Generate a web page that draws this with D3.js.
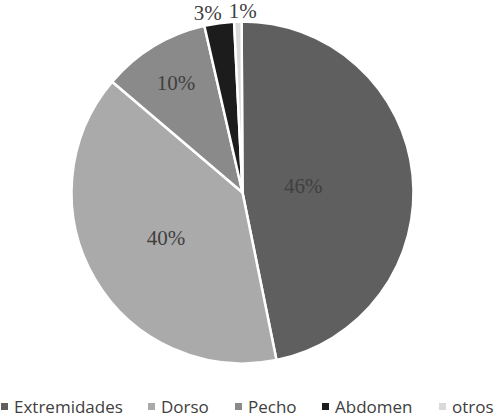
<!DOCTYPE html>
<html><head><meta charset="utf-8">
<script src="https://cdn.jsdelivr.net/npm/d3@7"></script>
<style>body{margin:0;background:#fff}</style>
</head><body>
<svg id="c" width="497" height="418"></svg>
<script>
const categories = ["Extremidades","Dorso","Pecho","Abdomen","otros"];
const values = [46.9,39.4,10.2,2.8,0.7];
const labels = ["46%","40%","10%","3%","1%"];
const colors = ["#5f5f5f","#aaaaaa","#8a8a8a","#1c1c1c","#d9d9d9"];
// label placement (styling)
const labelRadius = [0.357,0.52,0.75,1.02,1.02];
const labelAnchor = ["middle","middle","middle","end","middle"];
const labelBase = ["central","central","central","alphabetic","alphabetic"];
const labelDx = [0,0,0,3,5];

const svg = d3.select("#c");
const cx = 242.5, cy = 192.5, r = 171;
const g = svg.append("g").attr("transform",`translate(${cx},${cy})`);
const off = -0.3*Math.PI/180;
const pie = d3.pie().sort(null).value(d=>d).startAngle(off).endAngle(2*Math.PI+off)(values);
const arc = d3.arc().innerRadius(0).outerRadius(r);
g.selectAll("path").data(pie).join("path")
  .attr("d",arc).attr("fill",(d,i)=>colors[i])
  .attr("stroke","#fff").attr("stroke-width",2.5).attr("stroke-linejoin","round");
g.selectAll("text").data(pie).join("text")
  .attr("transform",(d,i)=>{
    const a=(d.startAngle+d.endAngle)/2, rr=r*labelRadius[i];
    return `translate(${Math.sin(a)*rr+labelDx[i]},${-Math.cos(a)*rr})`;})
  .attr("text-anchor",(d,i)=>labelAnchor[i])
  .attr("dominant-baseline",(d,i)=>labelBase[i])
  .attr("font-family","Liberation Serif, serif").attr("font-size",21)
  .attr("fill","#404040").text((d,i)=>labels[i]);

const lx = [1,148,235,322,439];
const leg = svg.append("g");
categories.forEach((c,i)=>{
  leg.append("rect").attr("x",lx[i]).attr("y",403).attr("width",7).attr("height",7).attr("fill",colors[i]);
  leg.append("text").attr("x",lx[i]+13).attr("y",413).attr("font-family","Open Sans, sans-serif")
    .attr("font-size",17).attr("fill","#404040").text(c);
});
</script>
</body></html>
